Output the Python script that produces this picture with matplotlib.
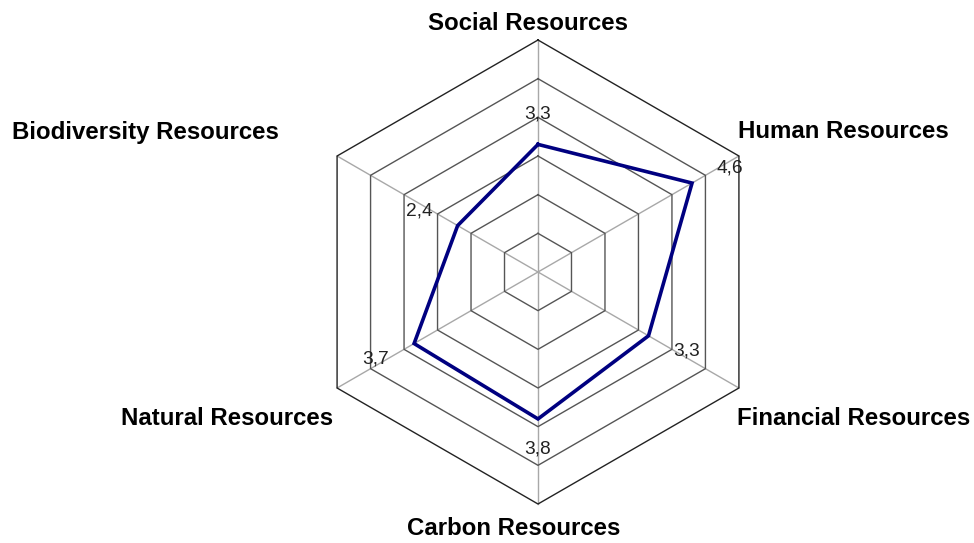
import numpy as np
import matplotlib
matplotlib.use("Agg")
import matplotlib.pyplot as plt

categories = ["Social Resources", "Human Resources", "Financial Resources",
              "Carbon Resources", "Natural Resources", "Biodiversity Resources"]
values = [3.3, 4.6, 3.3, 3.8, 3.7, 2.4]
rings = [1, 2, 3, 4, 5, 6]
rmax = 6

plt.rcParams['font.family'] = ['Liberation Sans', 'DejaVu Sans']

W, H = 974, 543
fig = plt.figure(figsize=(W / 100, H / 100), dpi=100)
cx, cy, R = 538, 272, 232
ax = fig.add_axes([(cx - R) / W, (H - cy - R) / H, 2 * R / W, 2 * R / H], projection='polar')
ax.set_theta_zero_location('N')
ax.set_theta_direction(-1)
ax.set_ylim(0, rmax)
ax.grid(False)
ax.spines['polar'].set_visible(False)
ax.set_xticks([])
ax.set_yticks([])
ax.patch.set_visible(False)

n = len(categories)
theta = np.arange(n) * 2 * np.pi / n
theta_c = np.append(theta, theta[0])

# spokes
for t in theta:
    ax.plot([t, t], [0, rmax], color='#a8a8a8', lw=1.0, zorder=1, clip_on=False)

# rings
for r in rings:
    col = '#222222' if r == rmax else '#555555'
    ax.plot(theta_c, [r] * (n + 1), color=col, lw=1.0, zorder=2, clip_on=False)

# data
vals_c = values + [values[0]]
ax.plot(theta_c, vals_c, color='#000080', lw=2.6, zorder=3, clip_on=False, solid_joinstyle='miter')

# value labels
for t, v in zip(theta, values):
    dx = 44 * np.sin(t)
    dy = 30 * np.cos(t)
    ax.annotate(f"{v:.1f}".replace('.', ','), xy=(t, v), xytext=(dx, dy),
                textcoords='offset pixels', ha='center', va='center',
                fontsize=13.8, color='#222222', zorder=4, annotation_clip=False)

# category labels (pixel positions of text centre-x and baseline)
label_pos = [(528.5, 30), (843, 138), (854, 425), (513.5, 535), (227, 425), (145, 139)]
for name, (px, py) in zip(categories, label_pos):
    fig.text(px / W, 1 - py / H, name, ha='center', va='baseline',
             fontsize=17.3, fontweight='bold', color='black')

fig.savefig("out.png", dpi=100, facecolor='white')
